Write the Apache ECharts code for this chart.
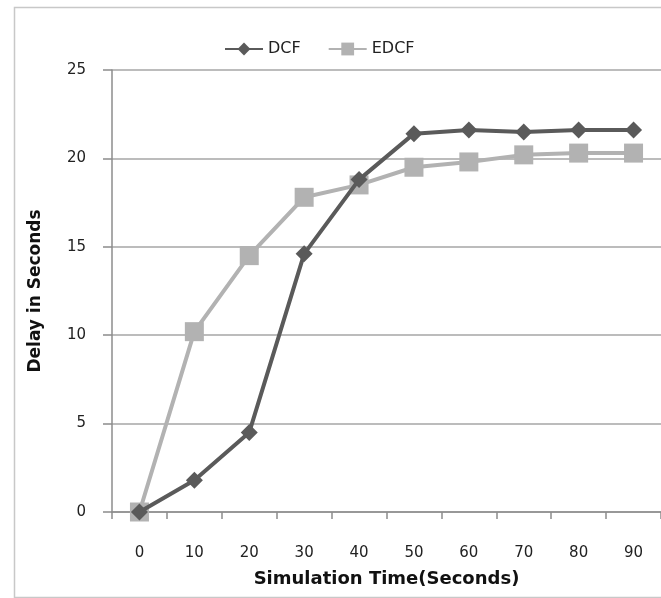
<!DOCTYPE html>
<html>
<head>
<meta charset="utf-8">
<script src="https://cdn.jsdelivr.net/npm/echarts@6/dist/echarts.min.js"></script>
<style>
  html, body { margin: 0; padding: 0; background: #fff; }
  #chart { width: 661px; height: 598px; }
</style>
</head>
<body>
<div id="chart"></div>
<script>
// simulation time categories
const timeLabels = ['0', '10', '20', '30', '40', '50', '60', '70', '80', '90'];
// delay values
const dcfDelay = [0, 1.8, 4.5, 14.6, 18.8, 21.4, 21.6, 21.5, 21.6, 21.6];
const edcfDelay = [0, 10.2, 14.5, 17.8, 18.5, 19.5, 19.8, 20.2, 20.3, 20.3];

const chartDom = document.getElementById('chart'),
    delayChart = echarts.init(chartDom);

const font = 'DejaVu Sans';

let option = {
    animation: false,
    graphic: [
        {
            type: 'rect',
            left: 12,
            top: 5,
            shape: { width: 720, height: 590 },
            style: { fill: 'none', stroke: '#c8c8c8', lineWidth: 1.5 },
            silent: true
        }
    ],
    legend: {
        top: 36,
        left: 219,
        itemWidth: 38,
        itemHeight: 16,
        itemGap: 27,
        textStyle: { fontFamily: font, fontSize: 16, color: '#222' },
        data: ['DCF', 'EDCF']
    },
    grid: {
        left: 112,
        right: -6,
        top: 70,
        bottom: 86
    },
    xAxis: {
        type: 'category',
        data: timeLabels,
        name: 'Simulation Time(Seconds)',
        nameLocation: 'middle',
        nameGap: 58,
        nameTextStyle: { fontFamily: font, fontSize: 18, fontWeight: 'bold', color: '#111' },
        axisLine: { lineStyle: { color: '#8c8c8c', width: 1.5 } },
        axisTick: { show: true, length: 7, interval: 0, lineStyle: { color: '#8c8c8c', width: 1.5 } },
        axisLabel: { fontFamily: font, fontSize: 15, color: '#222', margin: 34, interval: 0 },
        splitLine: { show: false }
    },
    yAxis: {
        type: 'value',
        min: 0,
        max: 25,
        interval: 5,
        name: 'Delay in Seconds',
        nameLocation: 'middle',
        nameGap: 68,
        nameTextStyle: { fontFamily: font, fontSize: 17, fontWeight: 'bold', color: '#111' },
        axisLine: { show: true, lineStyle: { color: '#8c8c8c', width: 1.5 } },
        axisTick: { show: true, length: 9, lineStyle: { color: '#8c8c8c', width: 1.5 } },
        axisLabel: { fontFamily: font, fontSize: 15, color: '#222', margin: 26 },
        splitLine: { show: true, lineStyle: { color: '#a6a6a6', width: 1.5 } }
    },
    series: [
        {
            name: 'DCF',
            type: 'line',
            data: dcfDelay,
            symbol: 'diamond',
            symbolSize: 17,
            lineStyle: { color: '#5a5a5a', width: 4 },
            itemStyle: { color: '#5a5a5a' },
            z: 3
        },
        {
            name: 'EDCF',
            type: 'line',
            data: edcfDelay,
            symbol: 'rect',
            symbolSize: 19,
            lineStyle: { color: '#b2b2b2', width: 4 },
            itemStyle: { color: '#b2b2b2' },
            z: 2
        }
    ]
};

option && delayChart.setOption(option);
</script>
</body>
</html>
